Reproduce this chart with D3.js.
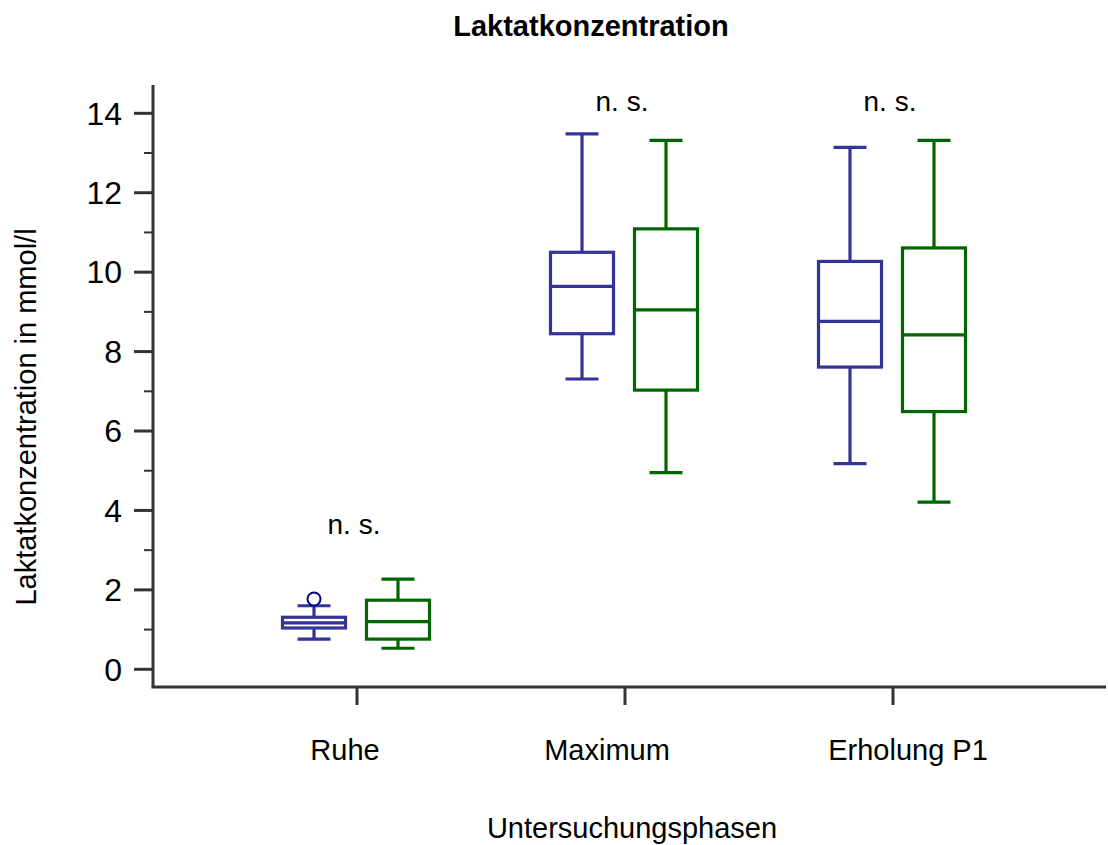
<!DOCTYPE html>
<html>
<head>
<meta charset="utf-8">
<script src="https://cdn.jsdelivr.net/npm/d3@7"></script>
<style>
  html, body { margin: 0; padding: 0; background: #fff; }
  svg { display: block; font-family: "Liberation Sans", Arial, sans-serif; }
</style>
</head>
<body>
<svg id="chart" width="1108" height="845"></svg>
<script>
// Study phases along the x axis
const phases = ["Ruhe", "Maximum", "Erholung P1"];
// Two groups per phase
const groups = ["A", "B"];
const groupColors = ["#333399", "#006600"];

// Box statistics per group, one entry per phase: [min, q1, median, q3, max]
const groupA = [
  [0.76, 1.04, 1.17, 1.31, 1.60],
  [7.31, 8.45, 9.64, 10.50, 13.48],
  [5.18, 7.61, 8.76, 10.27, 13.14]
];
const groupB = [
  [0.53, 0.76, 1.20, 1.74, 2.27],
  [4.95, 7.03, 9.05, 11.09, 13.32],
  [4.21, 6.49, 8.42, 10.61, 13.32]
];
// Outliers: [phase index, group index, value]
const outliers = [[0, 0, 1.77]];

// Significance annotations: label and height (mmol/l)
const sigLabels = ["n. s.", "n. s.", "n. s."];
const sigHeights = [3.6, 14.25, 14.25];

const yTicks = [0, 2, 4, 6, 8, 10, 12, 14];
const yMinorTicks = [1, 3, 5, 7, 9, 11, 13];

const svg = d3.select("#chart");
const axisColor = "#333333";

const y = d3.scaleLinear().domain([0, 14]).range([669.3, 113.3]);
const x = d3.scalePoint().domain(phases).range([357, 893]);
const offset = d3.scalePoint().domain(groups).range([-43, 41]);
const boxW = 63, capW = 33;
// horizontal nudge of each category label relative to its tick
const labelNudge = { "Ruhe": -12, "Maximum": -18, "Erholung P1": 15 };

// Title
svg.append("text")
  .attr("x", 591).attr("y", 36)
  .attr("text-anchor", "middle")
  .attr("font-weight", "bold")
  .attr("font-size", 29)
  .text("Laktatkonzentration");

// Y axis
const yAxisX = 153;
svg.append("line")
  .attr("x1", yAxisX).attr("x2", yAxisX)
  .attr("y1", 85).attr("y2", 687)
  .attr("stroke", axisColor).attr("stroke-width", 3);
svg.append("g").selectAll("line").data(yTicks).join("line")
  .attr("x1", 134).attr("x2", yAxisX)
  .attr("y1", d => y(d)).attr("y2", d => y(d))
  .attr("stroke", axisColor).attr("stroke-width", 3);
svg.append("g").selectAll("line").data(yMinorTicks).join("line")
  .attr("x1", 144).attr("x2", yAxisX)
  .attr("y1", d => y(d)).attr("y2", d => y(d))
  .attr("stroke", axisColor).attr("stroke-width", 2);
svg.append("g").selectAll("text").data(yTicks).join("text")
  .attr("x", 122).attr("y", d => y(d))
  .attr("dy", "0.35em")
  .attr("text-anchor", "end")
  .attr("font-size", 32)
  .text(d => d);

// X axis
const xAxisY = 687;
svg.append("line")
  .attr("x1", yAxisX - 1.5).attr("x2", 1106)
  .attr("y1", xAxisY).attr("y2", xAxisY)
  .attr("stroke", axisColor).attr("stroke-width", 3);
svg.append("g").selectAll("line").data(phases).join("line")
  .attr("x1", d => x(d)).attr("x2", d => x(d))
  .attr("y1", xAxisY).attr("y2", 705)
  .attr("stroke", axisColor).attr("stroke-width", 3);
svg.append("g").selectAll("text").data(phases).join("text")
  .attr("x", d => x(d) + labelNudge[d]).attr("y", 760)
  .attr("text-anchor", "middle")
  .attr("font-size", 29)
  .text(d => d);

// Axis titles
svg.append("text")
  .attr("x", 632).attr("y", 838)
  .attr("text-anchor", "middle")
  .attr("font-size", 29)
  .text("Untersuchungsphasen");
svg.append("text")
  .attr("transform", "translate(36,417) rotate(-90)")
  .attr("text-anchor", "middle")
  .attr("font-size", 29)
  .text("Laktatkonzentration in mmol/l");

// Box plots
const series = [groupA, groupB];
series.forEach((data, gi) => {
  const color = groupColors[gi];
  const g = svg.append("g")
    .attr("stroke", color).attr("stroke-width", 3.2).attr("fill", "none");
  data.forEach((s, pi) => {
    const cx = x(phases[pi]) + offset(groups[gi]);
    const [mn, q1, med, q3, mx] = s;
    // whiskers
    g.append("line").attr("x1", cx).attr("x2", cx).attr("y1", y(q3)).attr("y2", y(mx));
    g.append("line").attr("x1", cx).attr("x2", cx).attr("y1", y(q1)).attr("y2", y(mn));
    g.append("line").attr("x1", cx - capW / 2).attr("x2", cx + capW / 2).attr("y1", y(mx)).attr("y2", y(mx));
    g.append("line").attr("x1", cx - capW / 2).attr("x2", cx + capW / 2).attr("y1", y(mn)).attr("y2", y(mn));
    // box
    g.append("rect")
      .attr("x", cx - boxW / 2).attr("width", boxW)
      .attr("y", y(q3)).attr("height", y(q1) - y(q3))
      .attr("fill", "#fff");
    // median
    g.append("line").attr("x1", cx - boxW / 2).attr("x2", cx + boxW / 2).attr("y1", y(med)).attr("y2", y(med));
  });
});

// Outliers
svg.append("g").selectAll("circle").data(outliers).join("circle")
  .attr("cx", d => x(phases[d[0]]) + offset(groups[d[1]]))
  .attr("cy", d => y(d[2]))
  .attr("r", 6.5)
  .attr("fill", "#fff")
  .attr("stroke", "#000080")
  .attr("stroke-width", 2);

// Significance labels
svg.append("g").selectAll("text").data(phases).join("text")
  .attr("x", d => x(d) - 3)
  .attr("y", (d, i) => y(sigHeights[i]))
  .attr("dy", "0.28em")
  .attr("text-anchor", "middle")
  .attr("font-size", 28)
  .text((d, i) => sigLabels[i]);
</script>
</body>
</html>
